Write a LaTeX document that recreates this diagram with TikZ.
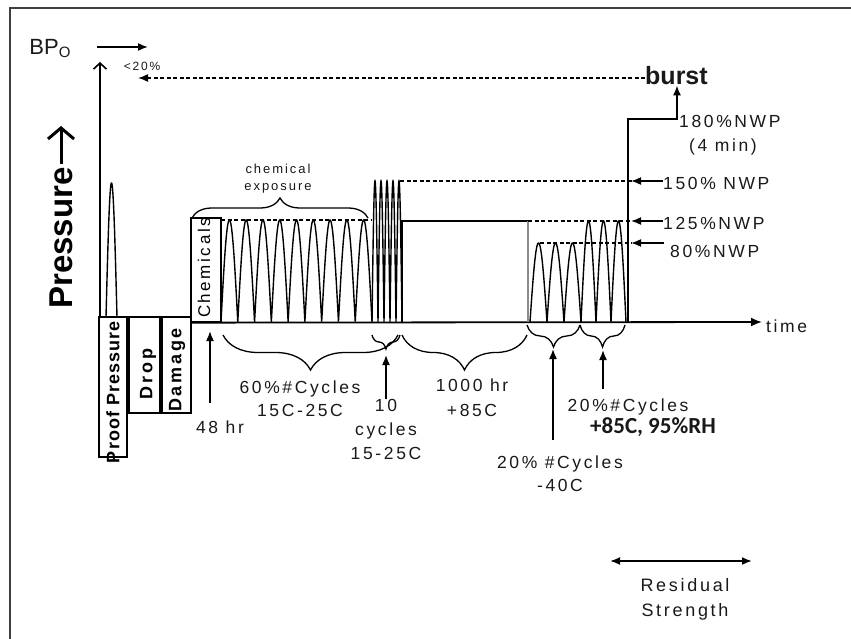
\documentclass[tikz,border=0pt]{standalone}
\usepackage{fontspec}
\setmainfont{Liberation Sans}[LetterSpace=15]
\newfontfamily\plainsans{Liberation Sans}
\newfontfamily\tightsans{Liberation Sans}[LetterSpace=6]
\newfontfamily\calib{Carlito}
\usetikzlibrary{arrows.meta,decorations.pathreplacing}
\tikzset{
  txt/.style={font=\fontsize{17.5}{23}\selectfont, align=center, inner sep=0pt, text=black!90},
  smalltxt/.style={font=\fontsize{13}{17}\selectfont, align=center, inner sep=0pt, text=black!90},
  boxlbl/.style={font=\bfseries\fontsize{18}{20}\selectfont, rotate=90, inner sep=0pt},
  boxshape/.style={draw, line width=1.3pt, inner sep=0pt},
  wave/.style={line width=1.4pt},
  axisline/.style={line width=1.8pt},
  dashline/.style={line width=1.5pt, dash pattern=on 4pt off 2.5pt},
  larrow/.style={line width=1.6pt, -{Latex[length=10pt,width=8pt]}},
  brc/.style={decorate, decoration={brace, amplitude=#1}, line width=1.3pt}
}
\begin{document}
\begin{tikzpicture}[x=1pt,y=-1pt]
\useasboundingbox (0,0) rectangle (851,639);
% frame
\draw[line width=2pt, black!75] (10,639) -- (10,8) -- (851,8);

% labels top-left
\node[font=\plainsans\fontsize{22}{23}\selectfont, inner sep=0pt, text=black!90] (bpo) at (50,49) {BP\raisebox{-3pt}{\fontsize{15}{15}\selectfont O}};
\coordinate (bpa) at (97,47);
\coordinate (bpb) at (148,47);
\draw[larrow] (bpa) -- (bpb);
\node[smalltxt, font=\fontsize{12}{13}\selectfont] (lt) at (142,66) {<20\%};
\node[font=\plainsans\bfseries\fontsize{33}{34}\selectfont, rotate=90, inner sep=0pt] (press) at (61,238) {Pressure};
\coordinate (pa) at (61,126);
\draw[line width=3pt, -{Straight Barb[length=11pt,width=26pt,line width=3pt]}] (press.east) ++(0,-3) -- (pa);

% boxes
\node[boxshape, minimum width=28pt, minimum height=140pt] (proof) at (113,387) {};
\node[boxlbl, font=\tightsans\bfseries\fontsize{18}{20}\selectfont] (prooft) at (113,392) {Proof Pressure};
\node[boxshape, minimum width=31pt, minimum height=96pt] (drop) at (144.5,365) {};
\node[boxlbl] (dropt) at (148,374) {Drop};
\node[boxshape, minimum width=29pt, minimum height=96pt] (damage) at (176.5,365) {};
\node[boxlbl] (damaget) at (177,370) {Damage};
\node[boxshape, minimum width=30pt, minimum height=104pt] (chem) at (206,270) {};
\node[boxlbl, font=\mdseries\fontsize{17}{19}\selectfont] (chemt) at (204,268) {Chemicals};

% axes
\coordinate (yb) at (100,317);
\coordinate (yt) at (100,62);
\draw[axisline, -{Straight Barb[length=6pt,width=13pt,line width=1.6pt]}] (yb) -- (yt);
\coordinate (te) at (762,322);
\draw[axisline, -{Latex[length=11pt,width=9pt]}] (chem.south west) -- (te);
\node[txt, anchor=west] (time) at (766,326) {time};

% proof pressure spike
\draw[wave] plot[domain=106:117, samples=80] (\x, {317-134*sin(16.3636*(\x-106))});

% chemical exposure cycles
\draw[dashline] (221,220) -- (372,220);
\draw[wave] plot[domain=221:372, samples=451] (\x, {322-102*abs(sin(10.727*(\x-221)))});
% 10 cycles
\draw[wave] plot[domain=372:402, samples=241] (\x, {322-141*abs(sin(30*(\x-372)))});
% 1000 hr plateau
\draw[wave] (402,322) -- (402,221) -- (528,221);
\draw[wave, black!45] (528,221) -- (528,322);
% -40C cycles
\draw[wave] plot[domain=530:581, samples=241] (\x, {322-79*abs(sin(10.588*(\x-530)))});
% 85C cycles
\draw[wave] plot[domain=581:626, samples=241] (\x, {322-101*abs(sin(12*(\x-581)))});

% dashed levels
\draw[dashline] (400,181) -- (632,181);
\draw[dashline] (528,221) -- (632,221);
\draw[dashline] (540,243) -- (632,243);

% burst
\node[font=\plainsans\bfseries\fontsize{25}{26}\selectfont, inner sep=0pt, anchor=west, text=black!90] (burst) at (645,76) {burst};
\coordinate (lt20) at (138,78);
\draw[dashline, -{Latex[length=10pt,width=8pt]}] (burst.west |- lt20) -- (lt20);
\coordinate (v0) at (628,322);
\coordinate (v2) at (677,119);
\draw[larrow, line width=1.8pt] (v0) |- (v2) -- (v2 |- burst.south);

% right labels
\node[txt, anchor=west] (l180) at (679,121) {180\%NWP};
\node[txt] (l4min) at (723,147) {(4 min)};
\node[txt, anchor=west] (l150) at (663,183) {150\% NWP};
\node[txt, anchor=west] (l125) at (663,223) {125\%NWP};
\node[txt, anchor=west] (l80) at (670,251) {80\%NWP};
\coordinate (a150) at (631,181);
\coordinate (a125) at (631,221);
\coordinate (a80) at (631,243);
\coordinate (s80) at (664,243);
\draw[larrow] (l150.west |- a150) -- (a150);
\draw[larrow] (l125.west |- a125) -- (a125);
\draw[larrow] (s80) -- (a80);

% chemical exposure brace
\draw[brc=20pt] (192,218) -- (368,218);
\node[smalltxt] (chemexp) at (278,179) {chemical\\exposure};

% lower braces
\draw[brc=35pt] (398,335) -- (223,335);
\draw[brc=14pt] (400,335) -- (372,335);
\draw[brc=35pt] (527,335) -- (402,335);
\draw[brc=22pt] (580,325) -- (527,325);
\draw[brc=22pt] (625,325) -- (580,325);

% lower labels and arrows
\node[txt] (h48) at (220,427) {48 hr};
\coordinate (h48s) at (210,403);
\coordinate (h48e) at (210,331);
\draw[larrow] (h48s) -- (h48e);

\node[txt] (c60) at (300,399) {60\%\#Cycles\\15C-25C};

\node[txt, font=\fontsize{17.5}{24}\selectfont] (c10) at (386,429) {10\\cycles\\15-25C};
\coordinate (c10e) at (386,355);
\draw[larrow] (c10.north) -- (c10e);

\node[txt, font=\fontsize{17.5}{25}\selectfont] (h1000) at (472,398) {1000 hr\\+85C};

\node[txt] (c40) at (560,474) {20\% \#Cycles\\-40C};
\coordinate (c40s) at (553,440);
\coordinate (c40e) at (553,349);
\draw[larrow] (c40s) -- (c40e);

\node[txt] (c85) at (628,407) {20\%\#Cycles};
\node[font=\calib\bfseries\fontsize{23}{25}\selectfont, inner sep=0pt, text=black!90] (c85b) at (653,427) {+85C, 95\%RH};
\coordinate (c85s) at (603,389);
\coordinate (c85e) at (603,350);
\draw[larrow] (c85s) -- (c85e);

% residual strength
\coordinate (rl) at (610,561);
\coordinate (rr) at (752,561);
\draw[line width=1.8pt, {Latex[length=10pt,width=8pt]}-{Latex[length=10pt,width=8pt]}] (rl) -- (rr);
\node[txt, font=\fontsize{18}{25}\selectfont] (resid) at (685,599) {Residual\\Strength};
\end{tikzpicture}
\end{document}
